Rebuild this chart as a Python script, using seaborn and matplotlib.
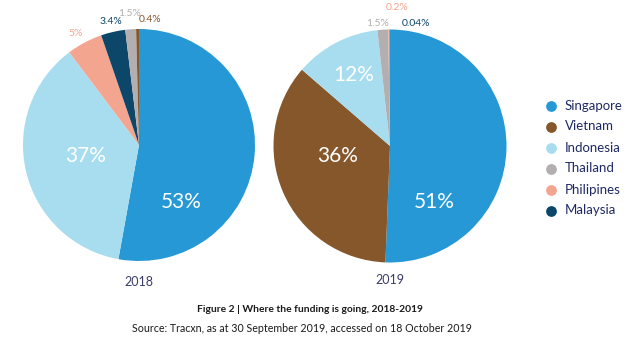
import matplotlib
matplotlib.use("Agg")
import matplotlib.pyplot as plt
import seaborn as sns

sns.set_theme(style="white")
plt.rcParams['font.family'] = ['Lato', 'DejaVu Sans']

# ---- data ----
countries = ["Singapore", "Vietnam", "Indonesia", "Thailand", "Philipines", "Malaysia"]
colors = {"Singapore": "#2698d5", "Vietnam": "#85572b", "Indonesia": "#a7ddef",
          "Thailand": "#b3aeb0", "Philipines": "#f4a590", "Malaysia": "#0c4669"}

order_2018 = ["Singapore", "Indonesia", "Philipines", "Malaysia", "Thailand", "Vietnam"]
values_2018 = [53, 37, 5, 3.4, 1.5, 0.4]
labels_2018 = ["53%", "37%", "5%", "3.4%", "1.5%", "0.4%"]

order_2019 = ["Singapore", "Vietnam", "Indonesia", "Thailand", "Philipines", "Malaysia"]
values_2019 = [51, 36, 12, 1.5, 0.2, 0.04]
labels_2019 = ["51%", "36%", "12%", "1.5%", "0.2%", "0.04%"]

years = ["2018", "2019"]
title = "Figure 2 | Where the funding is going, 2018-2019"
source = "Source: Tracxn, as at 30 September 2019, accessed on 18 October 2019"

# label placement (pixel positions in figure) and style: inside labels white/large
W, H = 640, 339
lab_pos_2018 = [(181, 202), (86, 156), (76, 34), (111, 21), (130, 14), (150, 20)]
lab_pos_2019 = [(434, 202), (338, 156), (354, 75), (378, 23), (397, 8), (416, 23)]
inside_2018 = [True, True, False, False, False, False]
inside_2019 = [True, True, True, False, False, False]

fig = plt.figure(figsize=(6.4, 3.39), dpi=100)
fig.patch.set_facecolor("white")

# overlay axes in pixel coordinates for annotations / legend
ov = fig.add_axes([0, 0, 1, 1])
ov.set_xlim(0, W)
ov.set_ylim(H, 0)
ov.axis("off")
ov.patch.set_alpha(0)

def add_pie(cx, cy, r, order, values, labels, pos, inside, year, ypos):
    ax = fig.add_axes([(cx - r) / W, 1 - (cy + r) / H, 2 * r / W, 2 * r / H])
    ax.pie(values, colors=[colors[c] for c in order], startangle=90,
           counterclock=False, radius=1, wedgeprops=dict(linewidth=0))
    ax.set_xlim(-1, 1)
    ax.set_ylim(-1, 1)
    ax.axis("off")
    for lab, (px, py), ins, c in zip(labels, pos, inside, order):
        if ins:
            ov.text(px, py, lab, color="white", fontsize=15,
                    ha="center", va="center", zorder=10)
        else:
            ov.text(px, py, lab, color=colors[c], fontsize=7.5,
                    ha="center", va="center", zorder=10)
    ov.text(cx, ypos, year, color="#3a3d6b", fontsize=9,
            ha="center", va="center")

add_pie(139, 145, 116, order_2018, values_2018, labels_2018, lab_pos_2018, inside_2018, years[0], 282)
add_pie(390, 146, 116.5, order_2019, values_2019, labels_2019, lab_pos_2019, inside_2019, years[1], 280)
ov.set_zorder(5)

# legend
for i, c in enumerate(countries):
    y = 105.5 + i * 21
    ov.scatter([551], [y], s=60, color=colors[c], linewidths=0)
    ov.text(565, y, c, color="#1e2a66", fontsize=9.5, ha="left", va="center")

ov.text(310, 310, title, color="#1a1a1a", fontsize=7.4,
        fontweight="bold", ha="center", va="center")
ov.text(302, 328, source, color="#1a1a1a", fontsize=7.7,
        ha="center", va="center")

fig.savefig("out.png", dpi=100, facecolor="white")
